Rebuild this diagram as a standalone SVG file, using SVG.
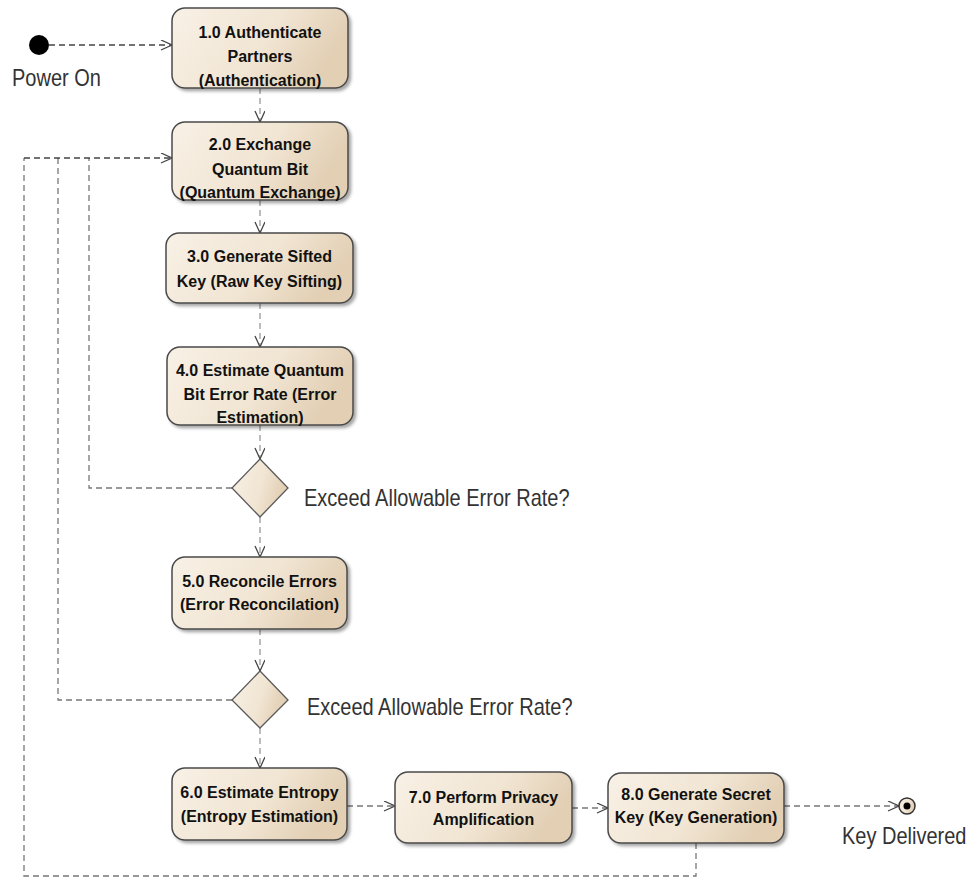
<svg xmlns="http://www.w3.org/2000/svg" width="974" height="878" viewBox="0 0 974 878">
  <style>
    .act { fill: url(#actFill); stroke: #4a4a4a; stroke-width: 1.5; filter: url(#shadow); }
    .dec { fill: url(#actFill); stroke: #5a5a5a; stroke-width: 1.3; }
    .lbl { font-family: "Liberation Sans", Arial, sans-serif; font-weight: bold; font-size: 16px; fill: #111; text-anchor: middle; }
    .note { font-family: "Liberation Sans", Arial, sans-serif; font-size: 20px; fill: #333; }
    .flow { fill: none; stroke: #777; stroke-width: 1.3; stroke-dasharray: 6 4; }
    .flow.dark { stroke: #444; }
    .flow.light { stroke: #999; }
  </style>
  <defs>
    <linearGradient id="actFill" x1="0" y1="0" x2="1" y2="0.3">
      <stop offset="0" stop-color="#f8f1e6"/>
      <stop offset="0.6" stop-color="#f1e5d3"/>
      <stop offset="1" stop-color="#e2cfb4"/>
    </linearGradient>
    <filter id="shadow" x="-10%" y="-10%" width="125%" height="130%">
      <feDropShadow dx="2.5" dy="2.5" stdDeviation="1.5" flood-color="#000" flood-opacity="0.35"/>
    </filter>
    <marker id="open" markerUnits="userSpaceOnUse" markerWidth="14" markerHeight="12" refX="12" refY="5" orient="auto">
      <path d="M1,0 L12,5 L1,10" fill="none" stroke="#444" stroke-width="1.3"/>
    </marker>
  </defs>

  <!-- control flows -->
  <g id="connectors">
    <path class="flow dark" d="M49,45 H172" marker-end="url(#open)"/>
    <path class="flow light" d="M260,88 V122" marker-end="url(#open)"/>
    <path class="flow light" d="M260,200 V233" marker-end="url(#open)"/>
    <path class="flow light" d="M260,303 V347" marker-end="url(#open)"/>
    <path class="flow light" d="M260,425 V459" marker-end="url(#open)"/>
    <path class="flow light" d="M260,517 V557" marker-end="url(#open)"/>
    <path class="flow light" d="M260,629 V671" marker-end="url(#open)"/>
    <path class="flow light" d="M260,728 V768" marker-end="url(#open)"/>
    <path class="flow" d="M232,488 H89 V158"/>
    <path class="flow" d="M232,700 H58 V158"/>
    <path class="flow" d="M696,843 V876 H24 V158"/>
    <path class="flow dark" d="M24,158 H172" marker-end="url(#open)"/>
    <path class="flow" d="M347,806 H395" marker-end="url(#open)"/>
    <path class="flow" d="M572,808 H608" marker-end="url(#open)"/>
    <path class="flow" d="M784,806 H899" marker-end="url(#open)"/>
  </g>

  <g id="start">
    <circle cx="39" cy="45" r="10" fill="#000"/>
    <text class="note" transform="translate(12,86) scale(1,1.2)">Power On</text>
  </g>

  <g id="act1">
    <rect class="act" x="172" y="8" width="176" height="80" rx="13"/>
    <text class="lbl" x="260" y="38">1.0 Authenticate</text>
    <text class="lbl" x="260" y="62">Partners</text>
    <text class="lbl" x="260" y="86">(Authentication)</text>
  </g>

  <g id="act2">
    <rect class="act" x="172" y="122" width="176" height="78" rx="13"/>
    <text class="lbl" x="260" y="150">2.0 Exchange</text>
    <text class="lbl" x="260" y="175">Quantum Bit</text>
    <text class="lbl" x="260" y="198">(Quantum Exchange)</text>
  </g>

  <g id="act3">
    <rect class="act" x="166" y="233" width="187" height="70" rx="13"/>
    <text class="lbl" x="259.5" y="262">3.0 Generate Sifted</text>
    <text class="lbl" x="259.5" y="287">Key (Raw Key Sifting)</text>
  </g>

  <g id="act4">
    <rect class="act" x="167" y="347" width="186" height="78" rx="13"/>
    <text class="lbl" x="260" y="376">4.0 Estimate Quantum</text>
    <text class="lbl" x="260" y="400">Bit Error Rate (Error</text>
    <text class="lbl" x="260" y="423">Estimation)</text>
  </g>

  <g id="decision1">
    <polygon class="dec" points="260,459 288,488 260,517 232,488"/>
    <text class="note" transform="translate(304,506) scale(1,1.2)">Exceed Allowable Error Rate?</text>
  </g>

  <g id="act5">
    <rect class="act" x="172" y="557" width="175" height="72" rx="13"/>
    <text class="lbl" x="259.5" y="587">5.0 Reconcile Errors</text>
    <text class="lbl" x="259.5" y="610">(Error Reconcilation)</text>
  </g>

  <g id="decision2">
    <polygon class="dec" points="260,671 288,700 260,728 232,700"/>
    <text class="note" transform="translate(307,715) scale(1,1.2)">Exceed Allowable Error Rate?</text>
  </g>

  <g id="act6">
    <rect class="act" x="172" y="768" width="175" height="72" rx="13"/>
    <text class="lbl" x="259.5" y="798">6.0 Estimate Entropy</text>
    <text class="lbl" x="259.5" y="822">(Entropy Estimation)</text>
  </g>

  <g id="act7">
    <rect class="act" x="395" y="772" width="177" height="71" rx="13"/>
    <text class="lbl" x="483.5" y="803">7.0 Perform Privacy</text>
    <text class="lbl" x="483.5" y="825">Amplification</text>
  </g>

  <g id="act8">
    <rect class="act" x="608" y="773" width="176" height="70" rx="13"/>
    <text class="lbl" x="696" y="800">8.0 Generate Secret</text>
    <text class="lbl" x="696" y="823">Key (Key Generation)</text>
  </g>

  <g id="end">
    <circle cx="907" cy="806" r="8" fill="url(#actFill)" stroke="#333" stroke-width="1.5"/>
    <circle cx="907" cy="806" r="3.5" fill="#000"/>
    <text class="note" transform="translate(842,844) scale(1,1.2)">Key Delivered</text>
  </g>
</svg>
